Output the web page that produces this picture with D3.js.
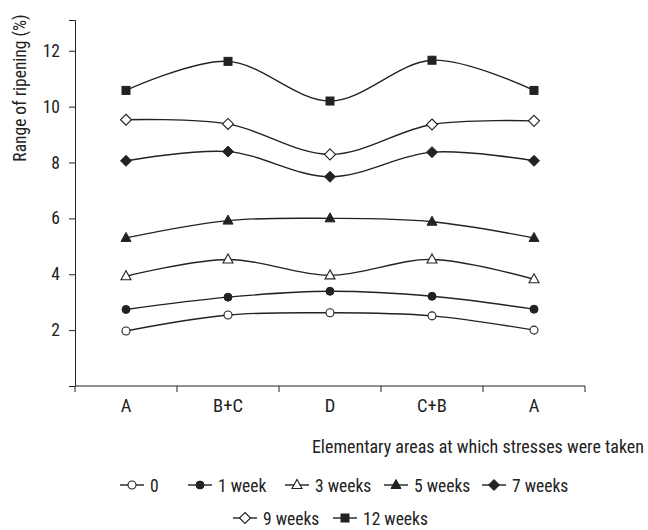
<!DOCTYPE html>
<html><head><meta charset="utf-8">
<script src="https://cdn.jsdelivr.net/npm/d3@7"></script>
<style>body{margin:0;background:#fff}svg{display:block}text{font-family:"Liberation Sans Narrow","Arial Narrow","Roboto Condensed",sans-serif;fill:#222}</style>
</head><body><svg id="c" width="648" height="530"></svg>
<script>
const categories = ["A", "B+C", "D", "C+B", "A"];
const seriesNames = ["0", "1 week", "3 weeks", "5 weeks", "7 weeks", "9 weeks", "12 weeks"];
const s0 = [1.97, 2.54, 2.62, 2.51, 2.00];
const s1 = [2.74, 3.18, 3.39, 3.21, 2.75];
const s3 = [3.93, 4.53, 3.96, 4.53, 3.82];
const s5 = [5.30, 5.92, 6.00, 5.88, 5.30];
const s7 = [8.06, 8.39, 7.49, 8.37, 8.06];
const s9 = [9.53, 9.38, 8.29, 9.36, 9.49];
const s12 = [10.58, 11.62, 10.20, 11.66, 10.58];
const yTicks = [0, 2, 4, 6, 8, 10, 12, 13.1];
const yLabels = ["", "2", "4", "6", "8", "10", "12", ""];
const markers = ["circleOpen", "circle", "triangleOpen", "triangle", "diamond", "diamondOpen", "square"];
const seriesValues = [s0, s1, s3, s5, s7, s9, s12];

const svg = d3.select("#c");
const col = "#222";
const x = d3.scaleBand().domain(d3.range(categories.length)).range([75, 585]);
const y = d3.scaleLinear().domain([0, 13.1]).range([386, 20]);

// y axis
const yAx = svg.append("g").attr("transform", "translate(75,0)")
  .call(d3.axisLeft(y).tickValues(yTicks).tickSize(6).tickPadding(9)
    .tickFormat((d, i) => yLabels[i]));
yAx.select(".domain").attr("stroke", col);
yAx.selectAll(".tick line").attr("stroke", col);
yAx.selectAll("text").style("font-size", "17.5px").attr("fill", col);

// x axis
const xAx = svg.append("g").attr("transform", "translate(0,386)")
  .call(d3.axisBottom(x).tickSize(0).tickPadding(13).tickFormat(i => categories[i]));
xAx.select(".domain").attr("stroke", col).attr("d", "M75,0H585");
xAx.selectAll("text").style("font-size", "18.5px").attr("fill", col);
const bounds = d3.range(categories.length + 1).map(i => 75 + i * x.step());
svg.append("g").selectAll("line").data(bounds).join("line")
  .attr("x1", d => d).attr("x2", d => d).attr("y1", 386).attr("y2", 392)
  .attr("stroke", col);

svg.append("text").attr("x", 644).attr("y", 453).attr("text-anchor", "end")
  .style("font-size", "18px").text("Elementary areas at which stresses were taken");
svg.append("text").attr("transform", "translate(26,88) rotate(-90)").attr("text-anchor", "middle")
  .style("font-size", "17.5px").text("Range of ripening (%)");

function drawMarker(g, type, cx, cy) {
  const open = type.endsWith("Open");
  const base = type.replace("Open", "");
  const fill = open ? "#fff" : col;
  let el;
  if (base === "circle") {
    el = g.append("circle").attr("cx", cx).attr("cy", cy).attr("r", 4);
  } else if (base === "square") {
    el = g.append("rect").attr("x", cx - 4).attr("y", cy - 4).attr("width", 8).attr("height", 8);
  } else if (base === "diamond") {
    el = g.append("path").attr("d", `M${cx},${cy-5.5}L${cx+5.5},${cy}L${cx},${cy+5.5}L${cx-5.5},${cy}Z`);
  } else {
    el = g.append("path").attr("d", `M${cx},${cy-5.5}L${cx+5},${cy+3.5}L${cx-5},${cy+3.5}Z`);
  }
  el.attr("fill", fill).attr("stroke", col).attr("stroke-width", open ? 1.1 : 1);
}

const line = d3.line().x((d, i) => x(i) + x.bandwidth() / 2).y(d => y(d)).curve(d3.curveCatmullRom.alpha(0));
const plot = svg.append("g");
seriesValues.forEach((vals, si) => {
  plot.append("path").datum(vals).attr("d", line).attr("fill", "none").attr("stroke", col).attr("stroke-width", 1.4);
});
seriesValues.forEach((vals, si) => {
  const g = plot.append("g");
  vals.forEach((v, i) => drawMarker(g, markers[si], x(i) + x.bandwidth() / 2, y(v)));
});

// legend
const legendPos = [[120, 485], [188, 485], [285, 485], [384, 485], [482, 485], [233, 518], [333, 518]];
seriesNames.forEach((name, si) => {
  const [lx, ly] = legendPos[si];
  const g = svg.append("g");
  g.append("line").attr("x1", lx).attr("x2", lx + 24).attr("y1", ly).attr("y2", ly).attr("stroke", col).attr("stroke-width", 1.4);
  drawMarker(g, markers[si], lx + 12, ly);
  g.append("text").attr("x", lx + 30).attr("y", ly + 6.5).style("font-size", "17.5px").text(name);
});
</script></body></html>
